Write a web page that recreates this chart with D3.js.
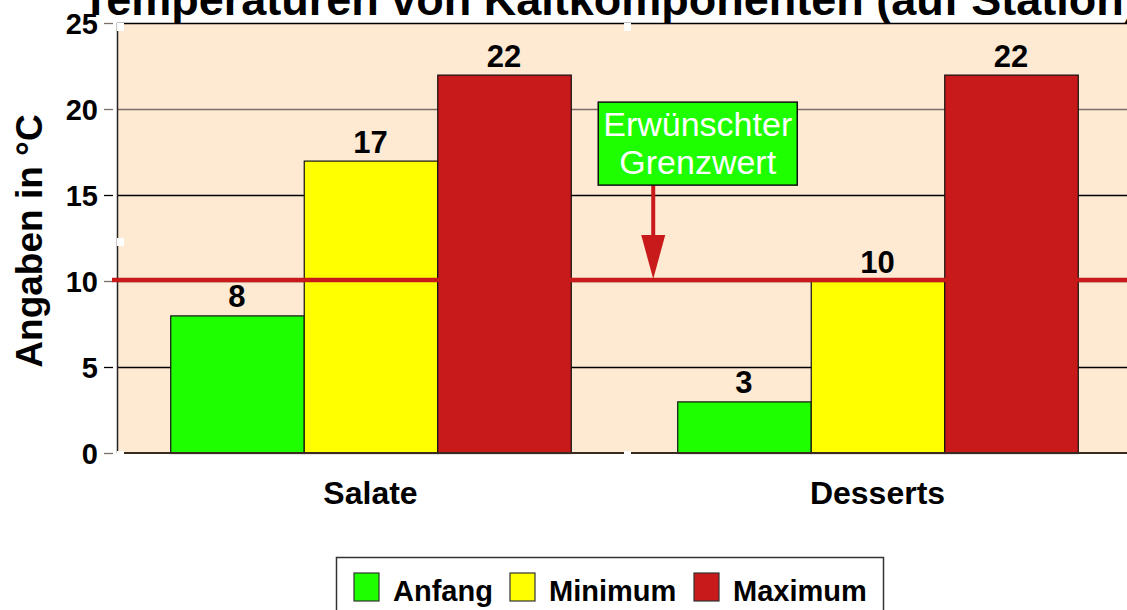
<!DOCTYPE html>
<html><head><meta charset="utf-8">
<script src="https://cdn.jsdelivr.net/npm/d3@7"></script>
<style>
html,body{margin:0;padding:0;background:#fff;overflow:hidden;}
text{font-family:"Liberation Sans",Arial,sans-serif;}
</style></head>
<body>
<svg id="chart" width="1127" height="610"></svg>
<script>
const categories = ["Salate", "Desserts"];
const seriesNames = ["Anfang", "Minimum", "Maximum"];
const anfang = [8, 3];
const minimum = [17, 10];
const maximum = [22, 22];
const yTicks = [0, 5, 10, 15, 20, 25];
const threshold = 10;
const title = "Temperaturen von Kaltkomponenten (auf Station)";
const yTitle = "Angaben in °C";
const annotationLines = ["Erwünschter", "Grenzwert"];

const colors = {Anfang: "#1EFF00", Minimum: "#FFFF00", Maximum: "#C81A1A"};
const seriesValues = {Anfang: anfang, Minimum: minimum, Maximum: maximum};

const svg = d3.select("#chart");
const plot = {left: 117, top: 23, bottom: 453, right: 1131};

const y = d3.scaleLinear().domain([0, 25]).range([plot.bottom, plot.top]);
const x0 = d3.scaleBand().domain(categories).range([plot.left, plot.right])
  .paddingInner(0.21).paddingOuter(0.105);
const x1 = d3.scaleBand().domain(seriesNames).range([0, x0.bandwidth()]);

// background
svg.append("rect").attr("x", plot.left).attr("y", plot.top)
  .attr("width", 1127 - plot.left).attr("height", plot.bottom - plot.top)
  .attr("fill", "#FEE9D3");

// gridlines
const gridColor = d => (d === 20 || d === 10 || d === 0) ? "#7a6e66" : "#000";
svg.append("g").selectAll("line").data(yTicks.filter(d => d > 0 && d < 25)).join("line")
  .attr("x1", plot.left).attr("x2", 1127)
  .attr("y1", d => y(d) + 0.5).attr("y2", d => y(d) + 0.5)
  .attr("stroke", gridColor).attr("stroke-width", 1.3);
// top border
svg.append("line").attr("x1", plot.left).attr("x2", 1127)
  .attr("y1", y(25) + 0.5).attr("y2", y(25) + 0.5).attr("stroke", "#000").attr("stroke-width", 1.3);

// y axis
const yAxis = d3.axisLeft(y).tickValues(yTicks).tickSize(9).tickPadding(6);
const gy = svg.append("g").attr("transform", `translate(${plot.left - 4},0)`).call(yAxis);
gy.select(".domain").remove();
gy.selectAll(".tick line").attr("stroke", d => (d === 15 || d === 5) ? "#000" : "#7a6e66").attr("stroke-width", 1.3);
gy.selectAll(".tick text").attr("font-size", 29).attr("font-weight", "bold").attr("fill", "#000")
  .attr("font-family", "Liberation Sans, Arial, sans-serif").attr("dy", "0.36em");
svg.append("line").attr("x1", plot.left + 0.5).attr("x2", plot.left + 0.5)
  .attr("y1", plot.top).attr("y2", plot.bottom).attr("stroke", "#222").attr("stroke-width", 1.5);

// bars
const groups = svg.append("g").selectAll("g").data(categories).join("g")
  .attr("transform", d => `translate(${x0(d)},0)`);
groups.selectAll("rect").data((c, i) => seriesNames.map(s => ({s, v: seriesValues[s][i]}))).join("rect")
  .attr("x", d => x1(d.s) + 0.5).attr("width", x1.bandwidth())
  .attr("y", d => y(d.v) + 0.5).attr("height", d => y(0) - y(d.v))
  .attr("fill", d => colors[d.s]).attr("stroke", "#111").attr("stroke-width", 1.2);
groups.selectAll("text").data((c, i) => seriesNames.map(s => ({s, v: seriesValues[s][i]}))).join("text")
  .attr("x", d => x1(d.s) + x1.bandwidth() / 2).attr("y", d => y(d.v) - 8)
  .attr("text-anchor", "middle").attr("font-size", 31).attr("font-weight", "bold")
  .text(d => d.v);

// baseline
svg.append("line").attr("x1", plot.left).attr("x2", 1127)
  .attr("y1", y(0)).attr("y2", y(0)).attr("stroke", "#3a2a20").attr("stroke-width", 2);

// threshold line
svg.append("line").attr("x1", plot.left - 5).attr("x2", 1127)
  .attr("y1", y(threshold) - 1).attr("y2", y(threshold) - 1)
  .attr("stroke", "#C81A1A").attr("stroke-width", 4.5);

// white marks
const marks = [[x0.range()[0], y(25)], [x0.range()[0] + x0.step(), y(25)], [x0.range()[0], y(12.5)],
  [x0.range()[0] + x0.step(), y(0) - 2], [x0.range()[0], y(0) - 2]];
svg.append("g").selectAll("rect").data(marks).join("rect")
  .attr("x", d => d[0]).attr("y", d => d[1]).attr("width", 7).attr("height", 8).attr("fill", "#fff");

// x labels
svg.append("g").selectAll("text").data(categories).join("text")
  .attr("x", d => x0(d) + x0.bandwidth() / 2).attr("y", 504)
  .attr("text-anchor", "middle").attr("font-size", 32).attr("font-weight", "bold")
  .text(d => d);

// annotation
const annX = x0("Desserts") - 79; // box left
const boxW = 199, boxH = 83, boxTop = y(20.4);
const arrowX = annX + 55;
svg.append("line").attr("x1", arrowX).attr("x2", arrowX).attr("y1", boxTop + boxH).attr("y2", y(threshold) - 40)
  .attr("stroke", "#C81A1A").attr("stroke-width", 4);
svg.append("path")
  .attr("d", `M${arrowX - 12},${y(threshold) - 46}L${arrowX + 12},${y(threshold) - 46}L${arrowX},${y(threshold) - 2}Z`)
  .attr("fill", "#C81A1A");
svg.append("rect").attr("x", annX).attr("y", boxTop).attr("width", boxW).attr("height", boxH)
  .attr("fill", "#1EFF00").attr("stroke", "#111").attr("stroke-width", 1.5);
svg.append("g").selectAll("text").data(annotationLines).join("text")
  .attr("x", annX + boxW / 2).attr("y", (d, i) => boxTop + 34 + i * 38)
  .attr("text-anchor", "middle").attr("font-size", 34).attr("fill", "#fff")
  .text(d => d);

// y title
svg.append("text").attr("transform", `translate(42,241) rotate(-90)`)
  .attr("text-anchor", "middle").attr("font-size", 37).attr("font-weight", "bold").text(yTitle);

// title
svg.append("text").attr("x", 82).attr("y", 15).attr("font-size", 45).attr("font-weight", "bold").text(title);

// legend
const lg = svg.append("g");
lg.append("rect").attr("x", 336.5).attr("y", 557.5).attr("width", 547).attr("height", 70)
  .attr("fill", "#fff").attr("stroke", "#333").attr("stroke-width", 1.5);
const legendX = d3.scaleOrdinal().domain(seriesNames).range([354, 510, 694]);
const li = lg.selectAll("g").data(seriesNames).join("g")
  .attr("transform", d => `translate(${legendX(d)},573)`);
li.append("rect").attr("width", 25).attr("height", 28).attr("fill", d => colors[d])
  .attr("stroke", "#333").attr("stroke-width", 1.2);
li.append("text").attr("x", 39).attr("y", 28).attr("font-size", 29).attr("font-weight", "bold").text(d => d);
</script>
</body></html>
